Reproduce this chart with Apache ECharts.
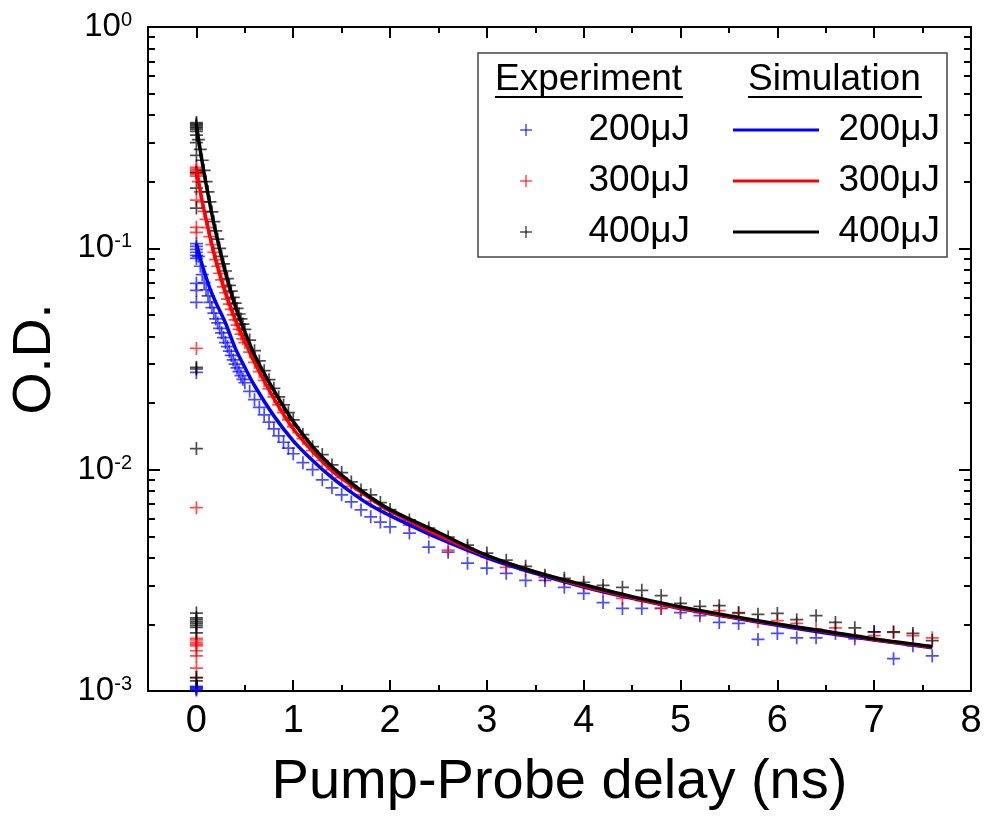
<!DOCTYPE html>
<html>
<head>
<meta charset="utf-8">
<script src="https://cdn.jsdelivr.net/npm/echarts@6/dist/echarts.min.js"></script>
<style>
html,body{margin:0;padding:0;background:#fff;}
#c{width:986px;height:827px;}
</style>
</head>
<body>
<div id="c"></div>
<script>
// ---- data ----
var xTicks = [0, 1, 2, 3, 4, 5, 6, 7, 8];
var xMinorTicks = [0.5, 1.5, 2.5, 3.5, 4.5, 5.5, 6.5, 7.5];
var yTicks = [0.001, 0.01, 0.1, 1];
var yMinorTicks = [0.002,0.003,0.004,0.005,0.006,0.007,0.008,0.009,
                   0.02,0.03,0.04,0.05,0.06,0.07,0.08,0.09,
                   0.2,0.3,0.4,0.5,0.6,0.7,0.8,0.9];

// experiment delays (ns)
var expX = [0.02,0.04,0.06,0.08,0.10,0.12,0.14,0.16,0.18,0.20,0.22,0.24,0.26,0.28,0.30,0.32,0.34,0.36,0.38,0.40,0.42,0.44,0.46,0.48,0.50,
            0.55,0.60,0.65,0.70,0.75,0.80,0.85,0.90,0.95,1.00,
            1.1,1.2,1.3,1.4,1.5,1.6,1.7,1.8,1.9,2.0,
            2.2,2.4,2.6,2.8,3.0,3.2,3.4,3.6,3.8,4.0,4.2,4.4,4.6,4.8,5.0,5.2,5.4,5.6,5.8,6.0,6.2,6.4,6.6,6.8,7.0,7.2,7.4,7.6];

var exp200 = [0.092,0.083,0.076,0.070,0.065,0.061,0.057,0.054,0.051,0.048,0.046,0.0435,0.0415,0.0395,0.0375,0.036,0.0343,0.0328,0.0313,0.030,0.0288,0.0277,0.0266,0.0256,0.0247,
              0.0226,0.0207,0.0191,0.0177,0.0164,0.0153,0.0142,0.0133,0.0125,0.0118,
              0.01076,0.0100,0.0090,0.00828,0.0077,0.00715,0.00658,0.00612,0.0058,0.00551,
              0.00517,0.00447,0.00424,0.00378,0.00359,0.0034,0.00316,0.00316,0.00294,0.00276,0.00251,0.00236,0.00236,0.00236,0.00226,0.00219,0.00204,0.00202,0.00171,0.00182,0.00174,0.00174,0.00182,0.00172,0.00185,0.0014,0.0016,0.00144];

var exp300 = [0.20,0.18,0.162,0.147,0.135,0.124,0.113,0.104,0.096,0.089,0.083,0.077,0.072,0.067,0.063,0.059,0.056,0.053,0.050,0.0475,0.045,0.043,0.041,0.039,0.0375,
              0.034,0.0305,0.0277,0.0253,0.0232,0.0213,0.0196,0.0181,0.0168,0.0156,
              0.0138,0.0122,0.011,0.0100,0.0092,0.0084,0.0077,0.0072,0.0067,0.0063,
              0.00562,0.00523,0.00433,0.00442,0.00402,0.00362,0.00351,0.00326,0.00316,0.0030,0.00285,0.00262,0.00256,0.00236,0.00236,0.00226,0.00231,0.00224,0.00206,0.00208,0.00202,0.00191,0.00193,0.00178,0.00178,0.00184,0.00178,0.00174];

var exp400 = [0.31,0.28,0.25,0.225,0.20,0.18,0.162,0.146,0.132,0.12,0.11,0.10,0.092,0.085,0.079,0.073,0.068,0.064,0.060,0.0565,0.0535,0.0505,0.048,0.0455,0.043,
              0.0385,0.0345,0.031,0.028,0.0255,0.0233,0.0213,0.0196,0.0181,0.0168,
              0.0144,0.0127,0.0117,0.0105,0.0097,0.0088,0.0081,0.0077,0.0071,0.0066,
              0.00593,0.00545,0.00496,0.00456,0.0042,0.0039,0.00366,0.00333,0.00323,0.0031,0.0030,0.00294,0.00285,0.0027,0.00249,0.00241,0.00243,0.00226,0.00222,0.00224,0.0021,0.00219,0.00204,0.00193,0.00185,0.00185,0.00182,0.00169];

// points recorded at zero delay (pre-signal and rise)
var zero200 = [0.00101,0.00102,0.00103,0.00104,0.00105,0.0275,0.057,0.0646,0.0695,0.090,0.093,0.096,0.099,0.102,0.105];
var zero300 = [0.00115,0.00127,0.00144,0.00152,0.0016,0.00163,0.00166,0.0017,0.00173,0.00673,0.0353,0.118,0.1245,0.165,0.212,0.216,0.22,0.224,0.228,0.232];
var zero400 = [0.00111,0.00115,0.00183,0.00194,0.00198,0.00202,0.00206,0.0021,0.00214,0.00225,0.01245,0.0285,0.029,0.152,0.187,0.22,0.263,0.30,0.325,0.338,0.345,0.35,0.355,0.36,0.365,0.37];

// simulation
var simX = [0,0.05,0.1,0.15,0.2,0.3,0.4,0.5,0.6,0.8,1.0,1.2,1.4,1.6,1.8,2.0,2.5,3.0,3.5,4.0,4.5,5.0,5.5,6.0,6.5,7.0,7.6];
var sim200 = [0.105,0.087,0.074,0.064,0.057,0.046,0.0355,0.029,0.024,0.0175,0.0135,0.011,0.0092,0.0079,0.0069,0.0062,0.0049,0.0040,0.0034,0.00295,0.00262,0.00236,0.00216,0.00198,0.00183,0.0017,0.00157];
var sim300 = [0.23,0.172,0.135,0.108,0.088,0.063,0.048,0.038,0.0305,0.021,0.0153,0.0121,0.0099,0.0085,0.0074,0.0065,0.00505,0.00408,0.00345,0.00298,0.00264,0.00237,0.00217,0.0020,0.00185,0.00171,0.00158];
var sim400 = [0.36,0.26,0.195,0.15,0.118,0.078,0.055,0.042,0.033,0.0228,0.0165,0.0127,0.0103,0.0087,0.0075,0.0066,0.0052,0.0041,0.00345,0.00302,0.00267,0.0024,0.00219,0.00201,0.00186,0.00172,0.00159];

var legendLabels = ['200\u03bcJ', '300\u03bcJ', '400\u03bcJ'];
var colors = ['#0000ff', '#ff0000', '#000000'];

// ---- build ----
function pairs(xs, ys) { return ys.map(function (v, i) { return [xs[i], v]; }); }
function zeroPairs(ys) { return ys.map(function (v) { return [0, v]; }); }

var PLUS = 'path://M5.2,0h1.6v5.2h5.2v1.6h-5.2v5.2h-1.6v-5.2h-5.2v-1.6h5.2z';
var FONT = 'Liberation Sans, Arial, sans-serif';
var NARROW = 'Liberation Sans Narrow, Arial Narrow, Liberation Sans, sans-serif';

function expSeries(name, color, zeros, ys) {
  return {
    name: name, type: 'scatter', xAxisIndex: 0, yAxisIndex: 0,
    symbol: PLUS, symbolSize: 13,
    itemStyle: { color: color, opacity: 0.7 },
    data: zeroPairs(zeros).concat(pairs(expX, ys)),
    z: 2
  };
}
function simSeries(name, color, ys) {
  return {
    name: name, type: 'line', xAxisIndex: 0, yAxisIndex: 0,
    smooth: 0.35, showSymbol: false, symbol: 'none',
    lineStyle: { color: color, width: 3.5 },
    data: pairs(simX, ys),
    z: 5
  };
}

function xAx(pos, major, showLabel) {
  return {
    type: 'value', min: -0.5, max: 8, position: pos,
    splitLine: { show: false },
    axisLine: { show: major, onZero: false, lineStyle: { color: '#000', width: 2 } },
    axisTick: { show: true, inside: true, length: major ? 11 : 6,
                customValues: major ? xTicks : xMinorTicks,
                lineStyle: { color: '#000', width: 2 } },
    axisLabel: { show: showLabel, customValues: xTicks, fontSize: 38, color: '#000',
                 fontFamily: NARROW, margin: 12 },
    name: showLabel ? 'Pump-Probe delay (ns)' : '',
    nameLocation: 'middle', nameGap: 64,
    nameTextStyle: { fontSize: 56, color: '#000', fontFamily: FONT }
  };
}
function yAx(pos, major, showLabel) {
  return {
    type: 'log', logBase: 10, min: 0.001, max: 1, position: pos,
    splitLine: { show: false }, minorSplitLine: { show: false },
    axisLine: { show: major, onZero: false, lineStyle: { color: '#000', width: 2 } },
    axisTick: { show: true, inside: true, length: major ? 12 : 7,
                customValues: major ? yTicks : yMinorTicks,
                lineStyle: { color: '#000', width: 2 } },
    axisLabel: {
      show: showLabel, customValues: yTicks, margin: 16,
      fontSize: 33, fontFamily: FONT, color: '#000',
      formatter: function (v) { return '{b|10}{s|' + Math.round(Math.log10(v)) + '}'; },
      rich: {
        b: { fontSize: 33, lineHeight: 33, color: '#000', fontFamily: FONT },
        s: { fontSize: 20, lineHeight: 10, verticalAlign: 'top', color: '#000', fontFamily: FONT }
      }
    },
    name: showLabel ? 'O.D.' : '',
    nameLocation: 'middle', nameGap: 86, nameRotate: 90,
    nameTextStyle: { fontSize: 54, color: '#000', fontFamily: FONT }
  };
}

// legend (drawn box, two columns)
var LX = 478, LY = 53, LW = 469, LH = 204;
var rowsY = [130, 181, 232];
var graphics = [
  { type: 'rect', shape: { x: LX, y: LY, width: LW, height: LH },
    style: { fill: '#fff', stroke: '#444', lineWidth: 1.5 }, z: 10 },
  { type: 'text', x: 495, y: 80, style: { text: 'Experiment', fontSize: 37, fontFamily: FONT,
    fill: '#000', textVerticalAlign: 'middle', textAlign: 'left' }, z: 11 },
  { type: 'line', shape: { x1: 495, y1: 97, x2: 683, y2: 97 }, style: { stroke: '#000', lineWidth: 2 }, z: 11 },
  { type: 'text', x: 748, y: 80, style: { text: 'Simulation', fontSize: 37, fontFamily: FONT,
    fill: '#000', textVerticalAlign: 'middle', textAlign: 'left' }, z: 11 },
  { type: 'line', shape: { x1: 748, y1: 97, x2: 922, y2: 97 }, style: { stroke: '#000', lineWidth: 2 }, z: 11 }
];
for (var i = 0; i < 3; i++) {
  graphics.push({ type: 'line', shape: { x1: 520, y1: rowsY[i], x2: 532, y2: rowsY[i] },
                  style: { stroke: colors[i], lineWidth: 1.3, opacity: 0.8 }, z: 11 });
  graphics.push({ type: 'line', shape: { x1: 526, y1: rowsY[i] - 6, x2: 526, y2: rowsY[i] + 6 },
                  style: { stroke: colors[i], lineWidth: 1.3, opacity: 0.8 }, z: 11 });
  graphics.push({ type: 'text', x: 690, y: rowsY[i], style: { text: legendLabels[i], fontSize: 37, fontFamily: FONT,
                  fill: '#000', textVerticalAlign: 'middle', textAlign: 'right' }, z: 11 });
  graphics.push({ type: 'line', shape: { x1: 733, y1: rowsY[i], x2: 819, y2: rowsY[i] },
                  style: { stroke: colors[i], lineWidth: 3 }, z: 11 });
  graphics.push({ type: 'text', x: 940, y: rowsY[i], style: { text: legendLabels[i], fontSize: 37, fontFamily: FONT,
                  fill: '#000', textVerticalAlign: 'middle', textAlign: 'right' }, z: 11 });
}

var chart = echarts.init(document.getElementById('c'), null, { renderer: 'canvas' });
chart.setOption({
  animation: false,
  backgroundColor: '#fff',
  grid: { left: 147, right: 15, top: 27, bottom: 136, containLabel: false },
  xAxis: [xAx('bottom', true, true), xAx('bottom', false, false), xAx('top', true, false), xAx('top', false, false)],
  yAxis: [yAx('left', true, true), yAx('left', false, false), yAx('right', true, false), yAx('right', false, false)],
  series: [
    expSeries('Experiment 200\u03bcJ', colors[0], zero200, exp200),
    expSeries('Experiment 300\u03bcJ', colors[1], zero300, exp300),
    expSeries('Experiment 400\u03bcJ', colors[2], zero400, exp400),
    simSeries('Simulation 200\u03bcJ', colors[0], sim200),
    simSeries('Simulation 300\u03bcJ', colors[1], sim300),
    simSeries('Simulation 400\u03bcJ', colors[2], sim400)
  ],
  graphic: graphics
});
</script>
</body>
</html>
